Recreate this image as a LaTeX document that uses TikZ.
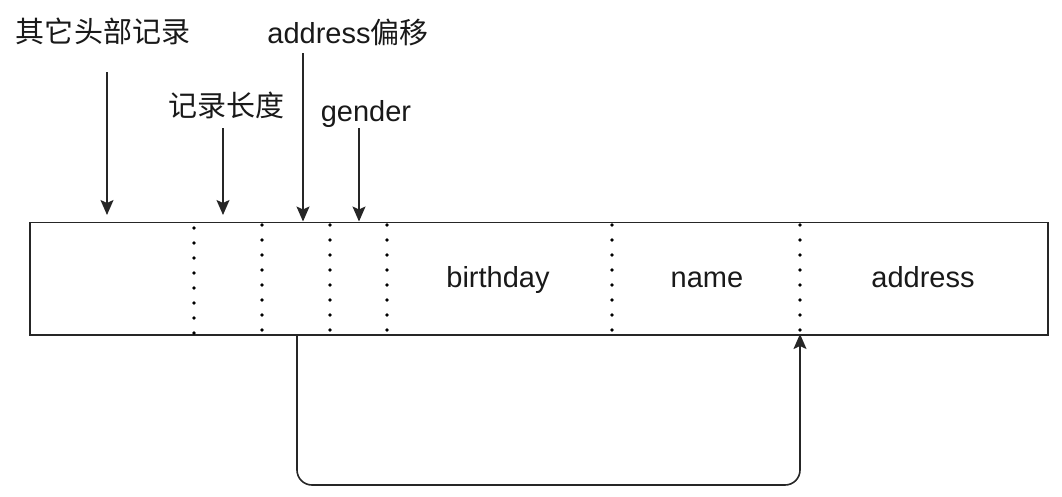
\documentclass[tikz,border=0pt]{standalone}
\usepackage{fontspec}
\setmainfont{Liberation Sans}
\newfontfamily\cjk{Noto Sans CJK SC}
\usetikzlibrary{arrows.meta}
\begin{document}
\begin{tikzpicture}[x=1pt,y=-1pt,
  lbl/.style={font=\fontsize{29}{34}\selectfont, inner sep=0pt, anchor=base, text=black!90},
  arr/.style={line width=1.6pt, draw=black!85, -{Stealth[length=15pt,width=13pt,inset=3pt]}},
  sepline/.style={line width=3.6pt, line cap=round, dash pattern=on 0pt off 15pt},
  box/.style={draw=black!85, line width=1.6pt, inner sep=0pt}]
\useasboundingbox (0,0) rectangle (1062,496);
% record
\node[box, minimum width=1018pt, minimum height=112.5pt, anchor=north west] (rec) at (29,221.5) {};
% separators
\foreach \x/\s in {194/228, 262/225, 330/225, 387/225, 612/225, 800/225}
  \draw[sepline] (\x,\s) -- (\x,334);
% field texts
\node[lbl] (f1) at (498,287) {birthday};
\node[lbl] (f2) at (707,287) {name};
\node[lbl] (f3) at (923,287) {address};
% labels
\node[lbl] (l1) at (103,42) {\cjk 其它头部记录};
\node[lbl] (l2) at (348,43) {address{\cjk 偏移}};
\node[lbl] (l3) at (226,116) {\cjk 记录长度};
\node[lbl] (l4) at (366,121) {gender};
% arrow coordinates
\coordinate (s1) at (107,72);  \coordinate (e1) at (107,215);
\coordinate (s2) at (223,128); \coordinate (e2) at (223,215);
\coordinate (s3) at (303,53);  \coordinate (e3) at (303,221.5);
\coordinate (s4) at (359,128); \coordinate (e4) at (359,221.5);
\draw[arr] (s1) -- (e1);
\draw[arr] (s2) -- (e2);
\draw[arr] (s3) -- (e3);
\draw[arr] (s4) -- (e4);
% offset connector
\coordinate (offs) at (297,334);
\coordinate (addr) at (800,334);
\draw[arr, rounded corners=15pt] (offs) -- (297,485) -- (800,485) -- (addr);
\end{tikzpicture}
\end{document}
